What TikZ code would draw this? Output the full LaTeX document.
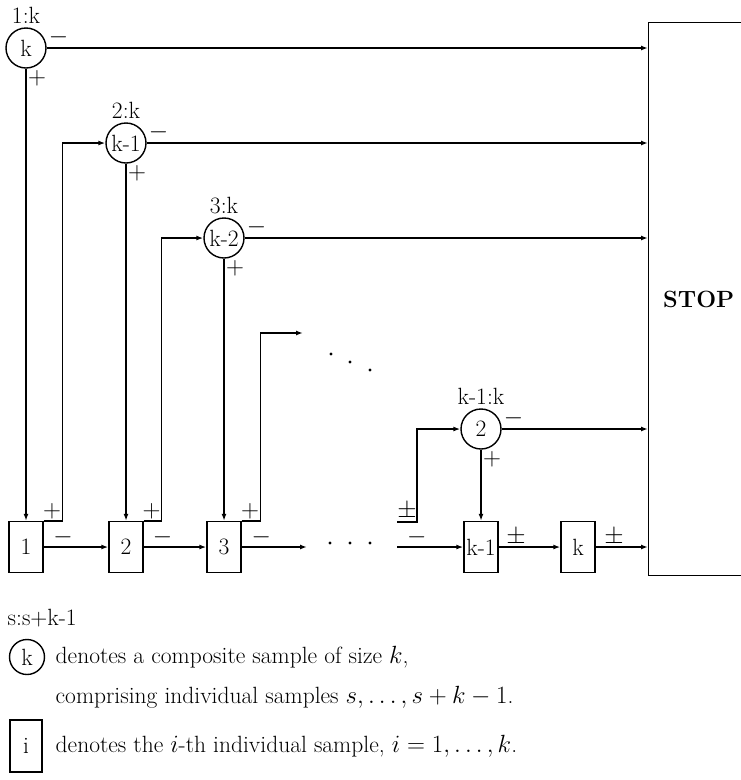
\documentclass[tikz,border=0pt]{standalone}
\usepackage{fontspec}
\usetikzlibrary{arrows.meta,positioning}
\begin{document}
\begin{tikzpicture}[x=1pt,y=-1pt,
    font=\fontsize{23.5}{28}\selectfont,
    line width=1.4pt, inner sep=3pt,
    >={Latex[length=7pt,width=5pt]},
    comp/.style={circle, draw, minimum size=40pt, inner sep=0pt},
    indiv/.style={draw, minimum width=34pt, minimum height=51pt, inner sep=0pt},
    sign/.style={inner sep=1.5pt},
    lowsign/.style={inner sep=1pt}]
    \useasboundingbox (0,0) rectangle (741,780);

    % STOP box (runs off the right edge)
    \node[draw, minimum width=100pt, minimum height=553pt, anchor=north west,
          font=\fontsize{23.5}{28}\selectfont\bfseries] (stop) at (648,22) {STOP};

    % Composite samples
    \node[comp] (c1) at (26,48) {k};
    \node[comp] (c2) at (126,143) {k-1};
    \node[comp] (c3) at (224,238) {k-2};
    \node[comp] (c4) at (481,429) {2};
    \node[above=0pt of c1] (l1) {1:k};
    \node[above=0pt of c2] (l2) {2:k};
    \node[above=0pt of c3] (l3) {3:k};
    \node[above=0pt of c4] (l4) {k-1:k};

    % Individual samples
    \node[indiv] (b1) at (26,547) {1};
    \node[indiv] (b2) at (126,547) {2};
    \node[indiv] (b3) at (224,547) {3};
    \node[indiv] (b4) at (481,547) {k-1};
    \node[indiv] (b5) at (578,547) {k};

    % Free ends
    \coordinate (more) at (303,333);
    \coordinate (out3) at (307,547);
    \coordinate (inA) at (397,522);
    \coordinate (inB) at (397,547);

    % Negative composites go to STOP
    \foreach \c in {c1,c2,c3,c4} {
        \draw[->] (\c) -- node[pos=0, above right, sign] {$-$} (\c -| stop.west);
    }

    % Positive composites go down to the samples
    \foreach \c/\b in {c1/b1,c2/b2,c3/b3,c4/b4} {
        \draw[->] (\c) -- node[pos=0, below right, sign] {$+$} (\b);
    }

    % Chain of individual samples
    \draw[->] (b1) -- node[pos=0.3, above, lowsign] {$-$} (b2);
    \draw[->] (b2) -- node[pos=0.3, above, lowsign] {$-$} (b3);
    \draw[->] (b3) -- node[pos=0.3, above, lowsign] {$-$} (out3);
    \draw[->] (inB) -- node[pos=0.3, above, lowsign] {$-$} (b4);
    \draw[->] (b4) -- node[pos=0.28, above, lowsign] {$\pm$} (b5);
    \draw[->] (b5) -- node[pos=0.35, above, lowsign] {$\pm$} (b5 -| stop.west);

    % Feedback to the next composite
    \draw[->] (b1.north east) -- node[above, sign, xshift=-1pt] {$+$} ++(19,0) |- (c2);
    \draw[->] (b2.north east) -- node[above, sign, xshift=-1pt] {$+$} ++(18,0) |- (c3);
    \draw[->] (b3.north east) -- node[above, sign, xshift=-1pt] {$+$} ++(19,0) |- (more);
    \draw[->] (inA) -- node[above, sign] {$\pm$} ++(20,0) |- (c4);

    % Dots
    \foreach \x/\y in {331/354, 350/362, 370/370} {
        \fill (\x,\y) circle (1.6pt);
    }
    \foreach \x in {330,350,370} {
        \fill (\x,543) circle (1.6pt);
    }

    % Legend
    \node[anchor=west] (key) at (4,618) {s:s+k-1};
    \node[comp, minimum size=35pt] (keyc) at (27,657) {k};
    \node[anchor=west] (keyc1) at (52,657) {denotes a composite sample of size $k$,};
    \node[anchor=west] (keyc2) at (52,697) {comprising individual samples $s,\ldots,s+k-1$.};
    \node[indiv, minimum width=32pt, minimum height=52pt] (keyb) at (26,746) {i};
    \node[anchor=west] (keyb1) at (52,746) {denotes the $i$-th individual sample, $i=1,\ldots,k$.};
\end{tikzpicture}
\end{document}
